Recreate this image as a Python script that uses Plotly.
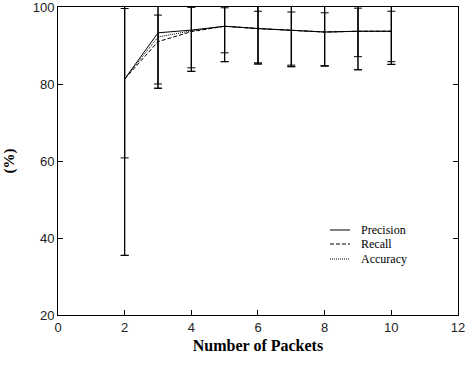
import plotly.graph_objects as go

packets = [2, 3, 4, 5, 6, 7, 8, 9, 10]
precision = [81.3, 93.3, 94.0, 95.0, 94.4, 94.0, 93.5, 93.7, 93.7]
recall = [81.3, 91.0, 93.6, 95.0, 94.4, 94.0, 93.5, 93.7, 93.7]
accuracy = [81.3, 92.2, 93.8, 95.0, 94.4, 94.0, 93.5, 93.7, 93.7]

precision_err = [45.8, 14.4, 10.7, 9.2, 9.2, 9.5, 8.8, 10.0, 8.6]
recall_err = [20.5, 11.0, 9.4, 6.9, 8.9, 9.1, 8.8, 6.6, 7.9]
accuracy_upper = [99.6, 97.9, 99.9, 99.8, 98.9, 98.7, 98.5, 99.7, 98.9]
accuracy_lower = [35.5, 78.9, 83.3, 85.8, 85.2, 84.5, 84.7, 83.7, 85.1]

x_ticks = [0, 2, 4, 6, 8, 10, 12]
y_ticks = [20, 40, 60, 80, 100]

fig = go.Figure()

fig.add_trace(go.Scatter(
    x=packets, y=precision, mode="lines", name="Precision",
    line=dict(color="black", width=1),
    error_y=dict(type="data", array=precision_err, color="black", thickness=1, width=4),
))
fig.add_trace(go.Scatter(
    x=packets, y=recall, mode="lines", name="Recall",
    line=dict(color="black", width=1, dash="4px,2px"),
    error_y=dict(type="data", array=recall_err, color="black", thickness=1, width=4),
))
fig.add_trace(go.Scatter(
    x=packets, y=accuracy, mode="lines", name="Accuracy",
    line=dict(color="black", width=1, dash="1px,1px"),
    error_y=dict(type="data", symmetric=False,
                 array=[u - v for u, v in zip(accuracy_upper, accuracy)],
                 arrayminus=[v - l for v, l in zip(accuracy, accuracy_lower)],
                 color="black", thickness=1, width=4),
))

# manual legend
legend_items = [("Precision", "solid"), ("Recall", "4px,2px"), ("Accuracy", "1px,1px")]
leg_y = [230, 244, 259]
W, H = 465, 366
ml, mr, mt, mb = 58, 7, 7, 51
pw, ph = W - ml - mr, H - mt - mb
for (name, dash), yp in zip(legend_items, leg_y):
    yy = 1 - (yp - mt) / ph
    x0 = (330 - ml) / pw
    x1 = (350 - ml) / pw
    fig.add_shape(type="line", xref="paper", yref="paper", x0=x0, x1=x1, y0=yy, y1=yy,
                  line=dict(color="black", width=1, dash=dash))
    fig.add_annotation(xref="paper", yref="paper", x=(359 - ml) / pw, y=yy, text=name,
                       showarrow=False, xanchor="left", yanchor="middle",
                       font=dict(family="Liberation Serif", size=12, color="black"))

axis_common = dict(showline=True, linecolor="black", linewidth=1, mirror="ticks",
                   ticks="inside", ticklen=5, tickcolor="black", showgrid=False,
                   zeroline=False, ticklabeloverflow="allow", automargin=False,
                   tickfont=dict(family="Liberation Sans", size=13, color="#222"))

fig.update_xaxes(range=[0, 12.0005], tickvals=x_ticks, **axis_common,
                 title=dict(text="<b>Number of Packets</b>", standoff=6,
                            font=dict(family="Liberation Serif", size=16, color="black")))
fig.update_yaxes(range=[20, 100.0005], tickvals=y_ticks, **axis_common,
                 title=dict(text="<b>(%)</b>", standoff=14,
                            font=dict(family="Liberation Serif", size=15, color="black")))

fig.update_layout(width=W, height=H, margin=dict(l=ml, r=mr, t=mt, b=mb, autoexpand=False),
                  plot_bgcolor="white", paper_bgcolor="white", showlegend=False)

fig.write_html("out.html")
